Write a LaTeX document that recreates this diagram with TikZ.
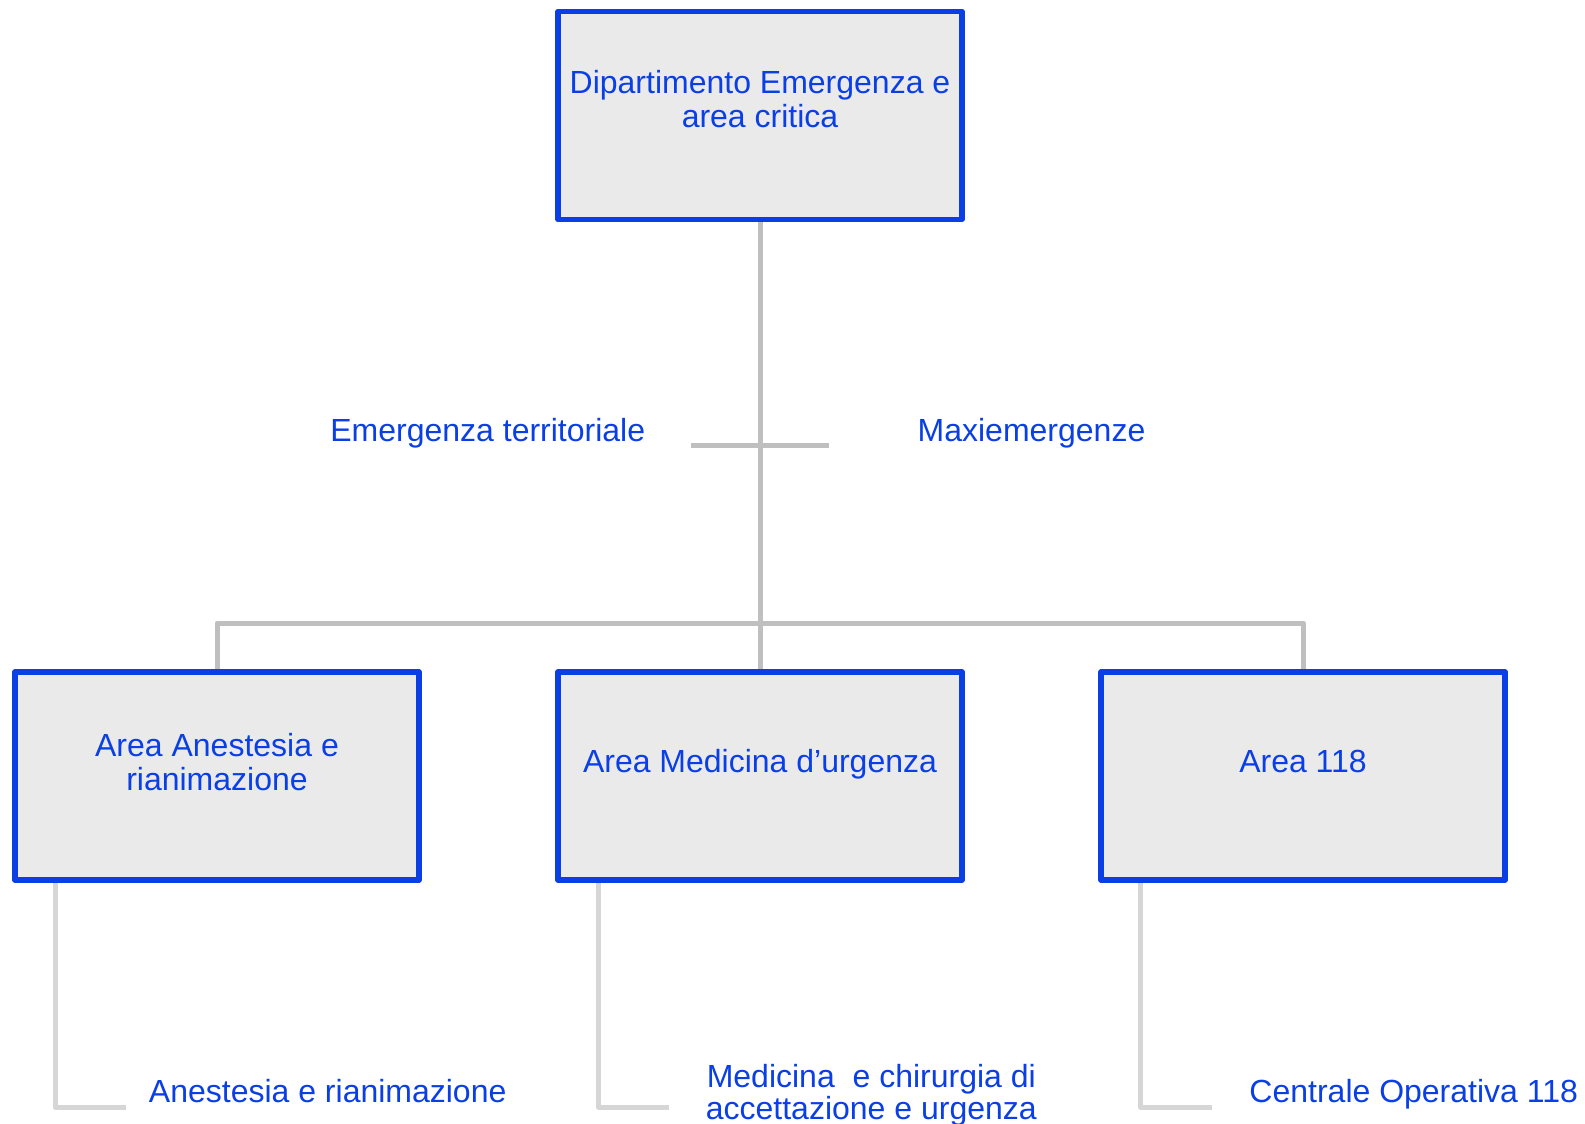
\documentclass[tikz,border=0pt]{standalone}
\usepackage{fontspec}
\setmainfont{Liberation Sans}
\definecolor{boxblue}{HTML}{0A3FE6}
\definecolor{textblue}{HTML}{0A3FE6}
\definecolor{boxfill}{HTML}{EAEAEA}
\definecolor{linkgray}{HTML}{BFBFBF}
\definecolor{leafgray}{HTML}{D6D6D6}
\begin{document}
\begin{tikzpicture}[x=1pt,y=-1pt,
  unit/.style={rectangle, draw=boxblue, fill=boxfill, line width=5.5pt,
    line join=round, minimum width=404pt, minimum height=208pt, inner sep=0pt},
  lbl/.style={text=textblue, font=\fontsize{32}{34}\selectfont,
    inner sep=0pt, anchor=base},
  link/.style={draw=linkgray, line width=5pt, line join=round},
  leaf/.style={draw=leafgray, line width=5pt, line join=round}]
\useasboundingbox (0,0) rectangle (1585,1124);
\path[fill=white] (0,0) rectangle (1585,1124);

% department and its three areas
\node[unit] (top)   at (760,115.5) {};
\node[unit] (left)  at (217,776) {};
\node[unit] (mid)   at (760,776) {};
\node[unit] (right) at (1303,776) {};

% tree connectors
\coordinate (bus) at (760,623);
\coordinate (crossL) at (691,445);
\coordinate (crossR) at (829,445);
\draw[link] (top.south) -- (mid.north);
\draw[link] (left.north) |- (bus) -| (right.north);
\draw[link] (crossL) -- (crossR);

% units under each area
\coordinate (aTurn) at (55.5,1107);   \coordinate (aEnd) at (125.5,1107);
\coordinate (bTurn) at (598.5,1107);  \coordinate (bEnd) at (669,1107);
\coordinate (cTurn) at (1140.5,1107); \coordinate (cEnd) at (1212,1107);
\draw[leaf] (aTurn |- left.south) -- (aTurn) -- (aEnd);
\draw[leaf] (bTurn |- mid.south) -- (bTurn) -- (bEnd);
\draw[leaf] (cTurn |- right.south) -- (cTurn) -- (cEnd);

% texts
\node[lbl] (topT) at (760,93.5)
  {\begin{tabular}[t]{@{}c@{}}Dipartimento Emergenza e\\area critica\end{tabular}};
\node[lbl] (leftT) at (217,756)
  {\begin{tabular}[t]{@{}c@{}}Area Anestesia e\\rianimazione\end{tabular}};
\node[lbl] (midT) at (760,772.5) {Area Medicina d’urgenza};
\node[lbl] (rightT) at (1303,772.5) {Area 118};
\node[lbl] (terr) at (487.8,441) {Emergenza territoriale};
\node[lbl] (maxi) at (1031.5,441) {Maxiemergenze};
\node[lbl] (anes) at (327.7,1102.3) {Anestesia e rianimazione};
\node[lbl] (medi) at (871.3,1087)
  {\fontsize{32}{32}\selectfont\begin{tabular}[t]{@{}c@{}}Medicina~ e chirurgia di\\accettazione e urgenza\end{tabular}};
\node[lbl] (cent) at (1413.7,1102) {Centrale Operativa 118};
\end{tikzpicture}
\end{document}
